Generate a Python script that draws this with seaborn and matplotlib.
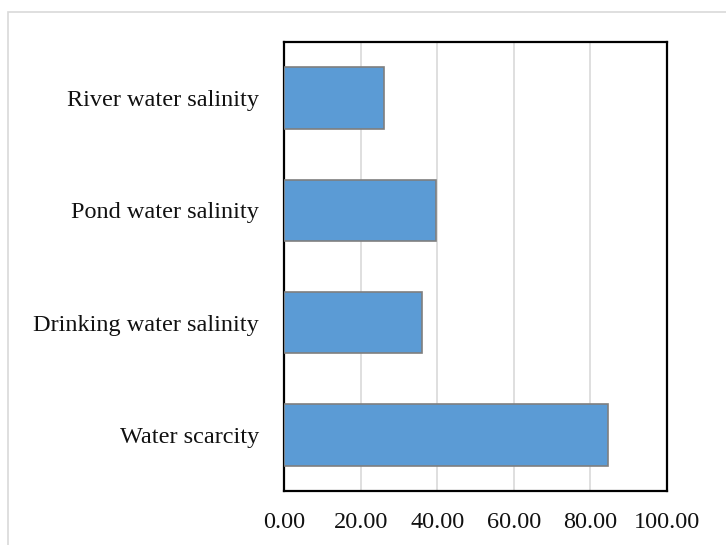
import matplotlib
matplotlib.use("Agg")
import matplotlib.pyplot as plt
import seaborn as sns
import pandas as pd
from matplotlib.patches import Rectangle

categories = ["River water salinity", "Pond water salinity", "Drinking water salinity", "Water scarcity"]
values = [26.1, 39.6, 36.0, 84.6]
xticks = [0, 20, 40, 60, 80, 100]
xticklabels = ["0.00", "20.00", "40.00", "60.00", "80.00", "100.00"]

df = pd.DataFrame({"category": categories, "value": values})

sns.set_theme(style="white")
plt.rcParams['font.family'] = ['Liberation Serif', 'DejaVu Serif']

fig = plt.figure(figsize=(7.26, 5.45), dpi=100)
ax = fig.add_axes([284/726, 1-491/545, (667-284)/726, (491-42)/545])

sns.barplot(data=df, y="category", x="value", orient="h", color="#5B9BD5",
            saturation=1, width=0.55, edgecolor="#7f7f7f", linewidth=1.2, ax=ax, zorder=3)

ax.set_xlim(0, 100)
ax.set_xticks(xticks)
ax.set_xticklabels(xticklabels, fontsize=17.5, color="#111111")
for t in ax.get_yticklabels():
    t.set_color("#111111")
ax.set_xlabel("")
ax.set_ylabel("")
ax.tick_params(axis="y", labelsize=17.5, pad=18, length=0)
ax.tick_params(axis="x", pad=15, length=0)
ax.grid(axis="x", color="#d9d9d9", linewidth=1.2, zorder=0)
ax.set_axisbelow(True)
for s in ax.spines.values():
    s.set_visible(True)
    s.set_color("black")
    s.set_linewidth(1.6)

fig.patches.append(Rectangle((8/726, -0.1), 1.2, 1 - 12/545 + 0.1, transform=fig.transFigure,
                             fill=False, edgecolor="#d9d9d9", linewidth=1.2, zorder=0))

fig.savefig("out.png", dpi=100)
